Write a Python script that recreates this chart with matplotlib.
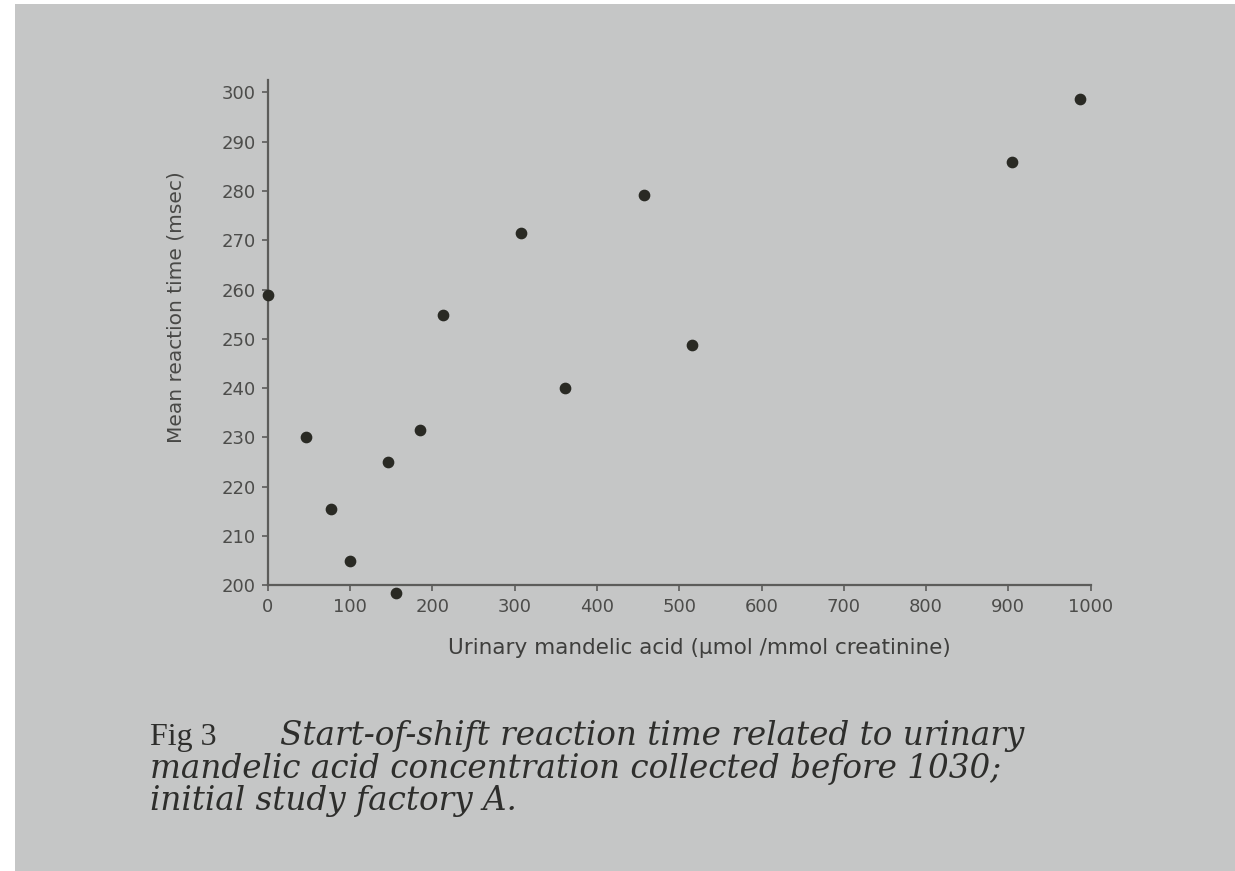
import matplotlib.pyplot as plt
from matplotlib.patches import Rectangle

# data
mandelic_acid = [0, 46, 77, 100, 146, 156, 185, 213, 308, 361, 457, 515, 904, 987]
reaction_time = [259, 230, 215.5, 205, 225, 198.5, 231.5, 254.8, 271.5, 240, 279.2, 248.7, 285.8, 298.7]

x_ticks = [0, 100, 200, 300, 400, 500, 600, 700, 800, 900, 1000]
y_ticks = [200, 210, 220, 230, 240, 250, 260, 270, 280, 290, 300]

page_col = '#c5c6c6'
ink = '#2e2e2c'

fig = plt.figure(figsize=(12.35, 8.71), dpi=100, facecolor=page_col)

# white edge of the photo (left and top)
fig.patches.append(Rectangle((0, 0), 15 / 1235, 1, transform=fig.transFigure,
                             facecolor='white', edgecolor='none'))
fig.patches.append(Rectangle((0, 1 - 4 / 871), 1, 4 / 871, transform=fig.transFigure,
                             facecolor='white', edgecolor='none'))

ax = fig.add_axes([0.217, 0.328, 0.666, 0.58])
ax.patch.set_alpha(0)

ax.scatter(mandelic_acid, reaction_time, s=55, color='#2a2a24', zorder=3, clip_on=False)

ax.set_xlim(0, 1000)
ax.set_ylim(200, 302.5)
ax.set_xticks(x_ticks)
ax.set_yticks(y_ticks)
ax.spines['top'].set_visible(False)
ax.spines['right'].set_visible(False)
for s in ['left', 'bottom']:
    ax.spines[s].set_color('#5c5c5a')
    ax.spines[s].set_linewidth(1.6)
ax.tick_params(axis='both', length=4, width=1.2, color='#5c5c5a',
               labelsize=13, labelcolor='#4c4c4a', pad=5)

ax.set_xlabel('Urinary mandelic acid (\u00b5mol /mmol creatinine)', fontsize=15.5, color='#3e3e3c')
ax.xaxis.set_label_coords(0.525, -0.105)
ax.set_ylabel('Mean reaction time (msec)', fontsize=14.5, color='#484846')
ax.yaxis.set_label_coords(-0.1, 0.55)

# caption
fig.text(150 / 1235, 1 - 745 / 871, 'Fig 3', va='baseline', fontsize=23,
         family='Liberation Serif', color=ink)
cap = dict(family='DejaVu Serif', style='italic', fontsize=23.5, color=ink, va='baseline')
fig.text(280 / 1235, 1 - 745 / 871, 'Start-of-shift reaction time related to urinary', **cap)
fig.text(150 / 1235, 1 - 778 / 871, 'mandelic acid concentration collected before 1030;', **cap)
fig.text(150 / 1235, 1 - 810 / 871, 'initial study factory A.', **cap)

fig.savefig('out.png', dpi=100, facecolor=page_col)
